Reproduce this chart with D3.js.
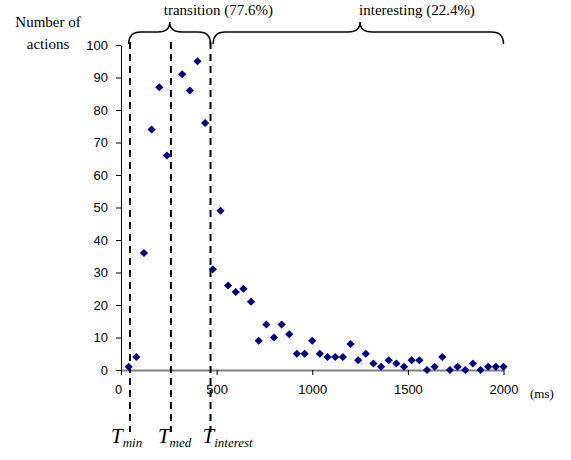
<!DOCTYPE html>
<html>
<head>
<meta charset="utf-8">
<script src="https://cdn.jsdelivr.net/npm/d3@7"></script>
<style>
  body { margin: 0; background: #fff; }
</style>
</head>
<body>
<div id="graf"></div>
<script>
// Datos (ms, numero de acciones)
const tiempos = [40, 80, 120, 160, 200, 240, 320, 360, 400, 440, 480, 520, 560, 600, 640, 680,
  720, 760, 800, 840, 880, 920, 960, 1000, 1040, 1080, 1120, 1160, 1200, 1240, 1280, 1320, 1360,
  1400, 1440, 1480, 1520, 1560, 1600, 1640, 1680, 1720, 1760, 1800, 1840, 1880, 1920, 1960, 2000]
const acciones = [1, 4, 36, 74, 87, 66, 91, 86, 95, 76, 31, 49, 26, 24, 25, 21,
  9, 14, 10, 14, 11, 5, 5, 9, 5, 4, 4, 4, 8, 3, 5, 2, 1,
  3, 2, 1, 3, 3, 0, 1, 4, 0, 1, 0, 2, 0, 1, 1, 1]
const xTicks = [0, 500, 1000, 1500, 2000]
const yTicks = [0, 10, 20, 30, 40, 50, 60, 70, 80, 90, 100]
// Umbrales
const umbrales = [{ v: 47, sub: 'min' }, { v: 261, sub: 'med' }, { v: 468, sub: 'interest' }]
// Llaves de arriba
const llaves = [
  { desde: 40, hasta: 468, pico: 255, texto: 'transition (77.6%)' },
  { desde: 482, hasta: 2000, pico: 1250, texto: 'interesting (22.4%)' }
]

const SANS = "'Liberation Sans', Arial, sans-serif"
const SERIF = "'Liberation Serif', 'Times New Roman', serif"

const ancho_total = 571, alto_total = 460
const margins = { top: 45, left: 121, right: 67, bottom: 90 }
const ancho = ancho_total - margins.left - margins.right
const alto = alto_total - margins.top - margins.bottom

const svg = d3.select('#graf').append('svg')
  .attr('width', ancho_total).attr('height', alto_total)

const g = svg.append('g')
  .attr('transform', `translate(${margins.left}, ${margins.top})`)

const x = d3.scaleLinear().domain([0, 2000]).range([0, ancho - 0.5])
const y = d3.scaleLinear().domain([0, 100]).range([alto, 0])

// Ejes
const yAxis = g.append('g')
  .call(d3.axisLeft(y).tickValues(yTicks).tickSize(5).tickSizeOuter(0).tickPadding(8))
yAxis.selectAll('line, path').attr('stroke', '#000')

const xAxis = g.append('g')
  .attr('transform', `translate(0, ${alto})`)
  .call(d3.axisBottom(x).tickValues(xTicks).tickFormat(d3.format('d'))
    .tickSize(5).tickSizeOuter(0).tickPadding(10))
xAxis.select('path').attr('stroke', '#808080').attr('stroke-width', 2)
xAxis.selectAll('.tick line').attr('stroke', '#000')
xAxis.selectAll('.tick text').attr('x', d => d === 0 ? -3 : 0)

g.selectAll('.tick text')
  .style('font-family', SANS).style('font-size', '13px').attr('fill', '#000')

// Lineas punteadas
g.selectAll('.umbral').data(umbrales).enter().append('line')
  .attr('x1', d => x(d.v)).attr('x2', d => x(d.v))
  .attr('y1', -3).attr('y2', alto + 62)
  .attr('stroke', '#000').attr('stroke-width', 2)
  .attr('stroke-dasharray', '7,5')

// Puntos
const datos = tiempos.map((t, i) => ({ t: t, n: acciones[i] }))
g.selectAll('.punto').data(datos).enter().append('path')
  .attr('d', d3.symbol(d3.symbolSquare, 34))
  .attr('transform', d => `translate(${x(d.t)}, ${y(d.n)}) rotate(45)`)
  .attr('fill', '#000080')

// Llaves
const llaveY = -13
const textoDx = [-6, -1]
llaves.forEach((l, i) => {
  const x0 = x(l.desde), x1 = x(l.hasta), xp = x(l.pico)
  const r = 12
  const p = d3.path()
  p.moveTo(x0, llaveY + 12)
  p.quadraticCurveTo(x0, llaveY, x0 + r, llaveY)
  p.lineTo(xp - r, llaveY)
  p.quadraticCurveTo(xp, llaveY, xp, llaveY - 10)
  p.quadraticCurveTo(xp, llaveY, xp + r, llaveY)
  p.lineTo(x1 - r, llaveY)
  p.quadraticCurveTo(x1, llaveY, x1, llaveY + 12)
  g.append('path').attr('d', p.toString())
    .attr('fill', 'none').attr('stroke', '#000').attr('stroke-width', 1.5)
  g.append('text')
    .attr('x', xp + textoDx[i]).attr('y', -30)
    .style('font-family', SERIF).style('font-size', '15px')
    .text(l.texto)
})

// Titulo del eje Y
const titulo = svg.append('text')
  .attr('text-anchor', 'middle')
  .style('font-family', SERIF).style('font-size', '15px')
titulo.append('tspan').attr('x', 48).attr('y', 27).text('Number of')
titulo.append('tspan').attr('x', 48).attr('y', 49).text('actions')

svg.append('text')
  .attr('x', 530).attr('y', 398)
  .style('font-family', SERIF).style('font-size', '13px')
  .text('(ms)')

// Etiquetas T
const desplaz = [-19, -13, -8]
umbrales.forEach((u, i) => {
  const t = svg.append('text')
    .attr('x', margins.left + x(u.v) + desplaz[i]).attr('y', 443)
    .style('font-family', SERIF).style('font-style', 'italic').style('font-size', '21px')
  t.append('tspan').text('T')
  t.append('tspan').style('font-size', '13px').attr('dy', 4).text(u.sub)
})
</script>
</body>
</html>
